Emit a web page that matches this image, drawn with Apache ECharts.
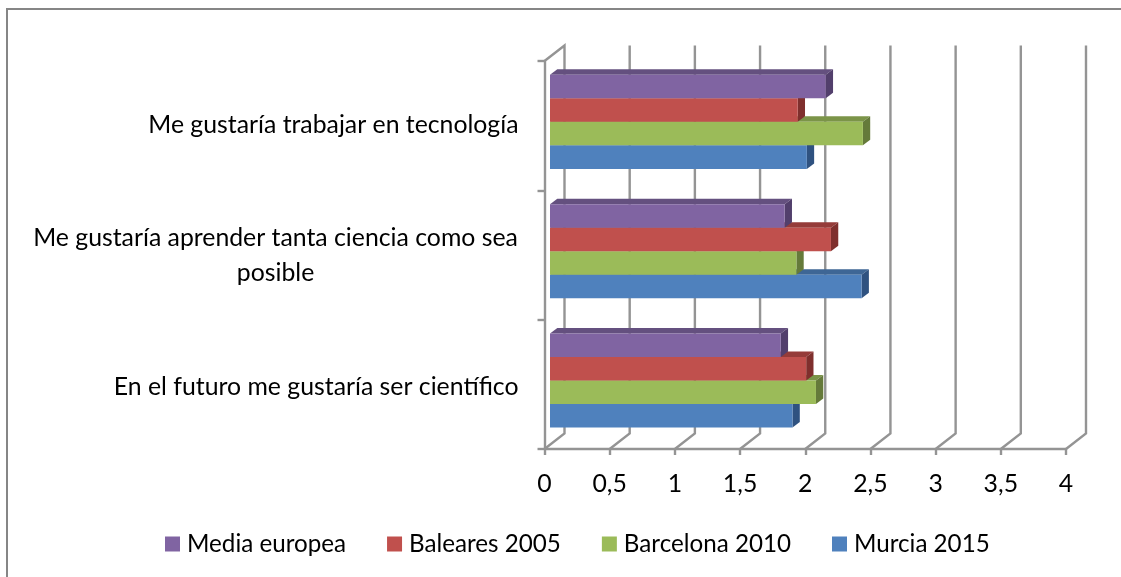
<!DOCTYPE html>
<html><head><meta charset="utf-8">
<style>html,body{margin:0;padding:0;background:#fff}#c{width:1121px;height:577px}</style>
<script src="https://cdn.jsdelivr.net/npm/echarts@6/dist/echarts.min.js"></script>
</head><body><div id="c"></div>
<script>
const categories = ['En el futuro me gustaría ser científico','Me gustaría aprender tanta ciencia como sea posible','Me gustaría trabajar en tecnología'];
const murcia2015 = [1.86, 2.39, 1.97];
const barcelona2010 = [2.04, 1.89, 2.40];
const baleares2005 = [1.965, 2.155, 1.90];
const mediaEuropea = [1.77, 1.80, 2.115];
const xTicks = [0,0.5,1,1.5,2,2.5,3,3.5,4];
const legendOrder = ['Media europea','Baleares 2005','Barcelona 2010','Murcia 2015'];

const FONT = 'Lato';
const FS = 24.8;
const WALL = '#949494';
const DX = 20, DY = -15.5;
const BX = 5.5, BY = -3.8;
const SX = 7.3, SY = -5.5;
const SLOT = 23.5/129.3;

function barSeries(name, values, slot, front, top, side){
  return {
    name, type:'custom', coordinateSystem:'cartesian2d', z:3,
    itemStyle:{color:front},
    encode:{x:0,y:1},
    data: values.map((v,i)=>[v,i]),
    renderItem(params, api){
      const end = api.coord([api.value(0), api.value(1)]);
      const start = api.coord([0, api.value(1)]);
      const band = api.size([0,1])[1];
      const h = band*SLOT;
      const y0 = end[1] + BY + h*(slot-2);
      const y1 = y0 + h;
      const x0 = start[0] + BX, x1 = end[0] + BX;
      return {type:'group', children:[
        {type:'polygon', shape:{points:[[x0,y0],[x0+SX,y0+SY],[x1+SX,y0+SY],[x1,y0]]}, style:{fill:top}},
        {type:'polygon', shape:{points:[[x1,y0],[x1+SX,y0+SY],[x1+SX,y1+SY],[x1,y1]]}, style:{fill:side}},
        {type:'rect', shape:{x:x0,y:y0,width:x1-x0,height:h}, style:{fill:front}}
      ]};
    }
  };
}
const wallSeries = {
  type:'custom', coordinateSystem:'cartesian2d', z:1, silent:true, legendHoverLink:false,
  encode:{x:0}, data:xTicks.map(v=>[v,0]),
  renderItem(params, api){
    const cs = params.coordSys;
    const x = api.coord([api.value(0),0])[0];
    const b = cs.y+cs.height, t = cs.y;
    const pts = [[x,b],[x+DX,b+DY],[x+DX,t+DY]];
    if(api.value(0)===0) pts.push([x,t]);
    return {type:'polyline', shape:{points:pts}, style:{stroke:WALL,lineWidth:2.4,fill:null}};
  }
};
const base = {fontSize:FS,fontFamily:FONT,color:'#000'};
const chart = echarts.init(document.getElementById('c'),null,{renderer:'canvas'});
chart.setOption({
  animation:false, backgroundColor:'#fff',
  textStyle:{fontFamily:FONT},
  graphic:[{type:'polyline',z:0,shape:{points:[[7,577],[7,9],[1121,9]]},style:{fill:null,stroke:'#868686',lineWidth:2}}],
  grid:{left:544.5,top:61,width:521.5,height:388},
  xAxis:{type:'value',min:0,max:4,interval:0.5,splitLine:{show:false},
    axisLine:{show:true,lineStyle:{color:WALL,width:2.4}},
    axisTick:{show:true,length:6,lineStyle:{color:WALL,width:2.4}},
    axisLabel:{color:'#000',fontSize:FS,fontFamily:FONT,margin:23,formatter:v=>String(v).replace('.',',')}},
  yAxis:{type:'category',data:categories,
    axisLine:{show:true,lineStyle:{color:WALL,width:2.4}},
    axisTick:{show:true,length:7,alignWithLabel:false,lineStyle:{color:WALL,width:2.4}},
    axisLabel:{color:'#000',fontSize:FS,fontFamily:FONT,margin:26,
      formatter:(v,i)=>{
        if(i===1) return '{w1|Me gustaría aprender tanta ciencia como sea}\n{w2|posible}';
        return i===0 ? '{low|'+v+'}' : '{high|'+v+'}';
      },
      rich:{
        w1:{...base,width:486,align:'center',lineHeight:37,padding:[4,0,0,0]},
        w2:{...base,width:486,align:'center',lineHeight:37},
        low:{...base,padding:[6,0,0,0]},
        high:{...base,padding:[0,0,2,0]}
      }}},
  legend:{data:legendOrder,left:160,top:527,icon:'rect',itemWidth:15,itemHeight:15,itemGap:41,
    textStyle:{color:'#000',fontSize:24.2,fontFamily:FONT,padding:[0,0,0,2]}},
  series:[wallSeries,
    barSeries('Murcia 2015',murcia2015,3,'#4F81BD','#3E6695','#2F5280'),
    barSeries('Barcelona 2010',barcelona2010,2,'#9BBB59','#7B9448','#657A3A'),
    barSeries('Baleares 2005',baleares2005,1,'#C0504D','#953B39','#7F2F2D'),
    barSeries('Media europea',mediaEuropea,0,'#8064A2','#64507F','#523F6C')]
});
</script></body></html>
